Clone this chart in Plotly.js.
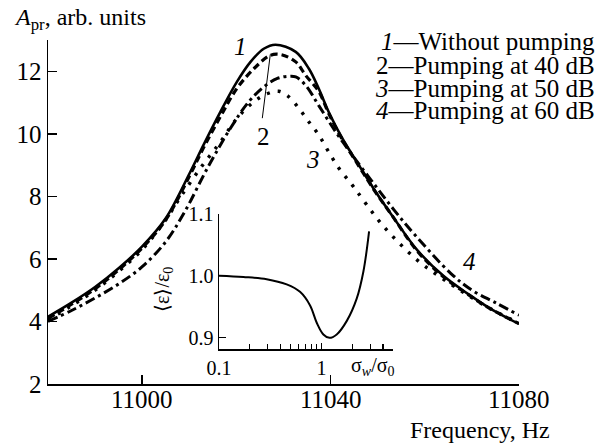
<!DOCTYPE html>
<html><head><meta charset="utf-8">
<script src="https://cdn.plot.ly/plotly-3.0.1.min.js"></script>
<style>html,body{margin:0;padding:0;background:#fff}#chart{width:604px;height:447px}</style>
</head><body><div id="chart"></div>
<script>
// Curve 1: without pumping (solid)
const freq1 = [10980,10985,10990,10995,11000,11005,11010.2,11013,11016.6,11020.1,11023,11025.8,11028.3,11032.6,11035.4,11037.5,11039.6,11042.5,11046,11049.6,11053,11058.4,11064,11069,11074,11080];
const amp1  = [4.15,4.6,5.1,5.7,6.4,7.3,8.78,9.64,10.7,11.66,12.3,12.72,12.85,12.62,12.08,11.44,10.7,9.85,9.0,8.14,7.4,6.28,5.45,4.9,4.4,3.92];
// Curve 2: pumping at 40 dB (dashed)
const freq2 = [10980,10985,10990,10995,11000,11005,11010.2,11013,11016.6,11020.1,11023.7,11027.2,11029.5,11032.6,11034.7,11037.5,11039.6,11042.5,11046,11049.6,11053,11058.4,11064,11069,11074,11080];
const amp2  = [4.1,4.55,5.05,5.65,6.35,7.25,8.7,9.55,10.55,11.45,12.08,12.51,12.53,12.3,11.87,11.35,10.65,9.82,8.97,8.12,7.4,6.25,5.42,4.88,4.4,3.93];
// Curve 3: pumping at 50 dB (dotted)
const freq3 = [10980,10985,10990,10995,11000,11005,11008,11012.3,11016.6,11020.1,11023.5,11026.5,11029,11031,11033.3,11035.4,11037.5,11039.6,11041.8,11044.6,11046.7,11051.3,11058.4,11063,11068,11074,11080];
const amp3  = [4.05,4.5,5.0,5.6,6.3,7.25,7.95,8.89,9.74,10.49,11.0,11.28,11.36,11.2,10.81,10.38,9.96,9.42,8.89,8.36,7.93,7.03,5.96,5.45,4.95,4.4,3.95];
// Curve 4: pumping at 60 dB (dash-dot)
const freq4 = [10980,10985,10990,10995,11000,11005,11009,11013.8,11018.7,11022.6,11025.8,11028.7,11031,11032.6,11034.7,11037.5,11041.1,11044.6,11048.9,11053.5,11058,11065.5,11070,11075,11080];
const amp4  = [4.0,4.35,4.75,5.2,5.75,6.55,7.5,8.89,10.17,11.02,11.5,11.77,11.84,11.82,11.55,10.9,10.06,9.32,8.46,7.56,6.75,5.54,5.0,4.6,4.2];
// Inset: <eps>/eps0 vs sigma_w/sigma_0
const sigRatio = [0.1,0.173,0.292,0.458,0.618,0.775,0.90,1.045,1.197,1.41,1.77,2.21,2.57,2.92];
const epsRatio = [1.0,0.998,0.9945,0.986,0.974,0.952,0.924,0.905,0.8995,0.905,0.927,0.963,1.007,1.072];
const freqTicks = [11000, 11040, 11080];
const insetMajorVals = [0.1, 1];
const insetMajorText = ['0.1', '1'];
const insetMinorVals = [0.2,0.3,0.4,0.5,0.6,0.7,0.8,0.9,2,3,4,5];
const insetYVals = [0.9, 1.0, 1.1];
const insetYText = ['0.9', '1.0', '1.1'];
const legendLines = ['<i>1</i>—Without pumping','2—Pumping at 40 dB','<i>3</i>—Pumping at 50 dB','<i>4</i>—Pumping at 60 dB'];

const FONT = 'Liberation Serif, Times New Roman, serif';
const W = 604, H = 447, ML = 48, MR = 85, MT = 40, MB = 63;
const PW = W - ML - MR, PH = H - MT - MB;
const px = x => (x - ML) / PW;
const py = y => (H - MB - y) / PH;

const traces = [
  {x: freq1, y: amp1, mode: 'lines', line: {color: '#000', width: 2.6, shape: 'spline'}, xaxis: 'x', yaxis: 'y'},
  {x: freq2, y: amp2, mode: 'lines', line: {color: '#000', width: 3.2, dash: '7px,4px', shape: 'spline'}, xaxis: 'x', yaxis: 'y'},
  {x: freq3, y: amp3, mode: 'lines', line: {color: '#000', width: 3.4, dash: '3px,8px', shape: 'spline'}, xaxis: 'x', yaxis: 'y'},
  {x: freq4, y: amp4, mode: 'lines', line: {color: '#000', width: 3.0, dash: '10px,4px,3px,4px', shape: 'spline'}, xaxis: 'x', yaxis: 'y'},
  {x: sigRatio, y: epsRatio, mode: 'lines', line: {color: '#000', width: 2, shape: 'spline'}, xaxis: 'x2', yaxis: 'y2'}
];

const ann = [];
const addText = (text, x, y, opts) => ann.push(Object.assign({text, x, y, xref: 'paper', yref: 'paper', showarrow: false, font: {family: FONT, size: 25, color: '#000'}}, opts || {}));

legendLines.forEach((t, i) => addText(t, px(597), py([41.5, 65, 88, 110.5][i]), {xanchor: 'right', yanchor: 'middle', font: {family: FONT, size: 25, color: '#000'}}));
freqTicks.forEach(v => ann.push({text: String(v), x: v, xref: 'x', y: py(399), yref: 'paper', showarrow: false, xanchor: 'center', yanchor: 'middle', font: {family: FONT, size: 25, color: '#000'}}));
addText('<i>A</i><sub>pr</sub>, arb. units', px(12), py(19), {xanchor: 'left', yanchor: 'middle', font: {family: FONT, size: 24, color: '#000'}});
addText('Frequency, Hz', px(552), py(430), {xanchor: 'right', yanchor: 'middle', font: {family: FONT, size: 24, color: '#000'}});
addText('<i>1</i>', px(240), py(46), {xanchor: 'center', yanchor: 'middle'});
addText('2', px(263), py(136), {xanchor: 'center', yanchor: 'middle'});
addText('<i>3</i>', px(313), py(159), {xanchor: 'center', yanchor: 'middle'});
addText('<i>4</i>', px(469), py(261), {xanchor: 'center', yanchor: 'middle'});
addText('σ<sub><i>w</i></sub>/σ<sub>0</sub>', px(372), py(366), {xanchor: 'center', yanchor: 'middle', font: {family: FONT, size: 20, color: '#000'}});
addText('⟨ε⟩/ε<sub>0</sub>', px(163), py(290), {xanchor: 'center', yanchor: 'middle', textangle: -90, font: {family: FONT, size: 20, color: '#000'}});

const layout = {
  width: W, height: H,
  margin: {l: ML, r: MR, t: MT, b: MB, pad: 0},
  paper_bgcolor: '#fff', plot_bgcolor: 'rgba(0,0,0,0)',
  showlegend: false,
  font: {family: FONT, color: '#000'},
  xaxis: {range: [10980, 11080], domain: [0, 1], anchor: 'y', tickmode: 'array', tickvals: freqTicks, showticklabels: false,
    showline: true, linecolor: '#000', linewidth: 1.5, ticks: 'inside', ticklen: 9, tickwidth: 1.5, tickcolor: '#000',
    showgrid: false, zeroline: false},
  yaxis: {range: [2, 13], domain: [0, 1], anchor: 'x', tick0: 2, dtick: 2,
    showline: true, linecolor: '#000', linewidth: 1.5, ticks: 'inside', ticklen: 9, tickwidth: 1.5, tickcolor: '#000',
    showgrid: false, zeroline: false, tickfont: {family: FONT, size: 25, color: '#000'}},
  xaxis2: {type: 'log', range: [-1, Math.log10(5)], domain: [px(219), px(393)], anchor: 'y2',
    tickmode: 'array', tickvals: insetMajorVals, ticktext: insetMajorText,
    minor: {tickmode: 'array', tickvals: insetMinorVals, ticks: 'inside', ticklen: 5, tickwidth: 1.2, tickcolor: '#000', showgrid: false},
    showline: true, linecolor: '#000', linewidth: 1.5, ticks: 'inside', ticklen: 6, tickwidth: 1.2, tickcolor: '#000',
    showgrid: false, zeroline: false, tickfont: {family: FONT, size: 20, color: '#000'}},
  yaxis2: {range: [0.881, 1.1], domain: [py(349.3), py(214)], anchor: 'x2',
    tickmode: 'array', tickvals: insetYVals, ticktext: insetYText,
    showline: true, linecolor: '#000', linewidth: 1.5, ticks: 'inside', ticklen: 7, tickwidth: 1.2, tickcolor: '#000',
    showgrid: false, zeroline: false, tickfont: {family: FONT, size: 20, color: '#000'}},
  shapes: [{type: 'line', xref: 'x', yref: 'y', x0: 11025.5, y0: 10.5, x1: 11027.2, y1: 12.54, line: {color: '#000', width: 1}}],
  annotations: ann
};

Plotly.newPlot('chart', traces, layout, {staticPlot: true, displayModeBar: false});
</script>
</body></html>
